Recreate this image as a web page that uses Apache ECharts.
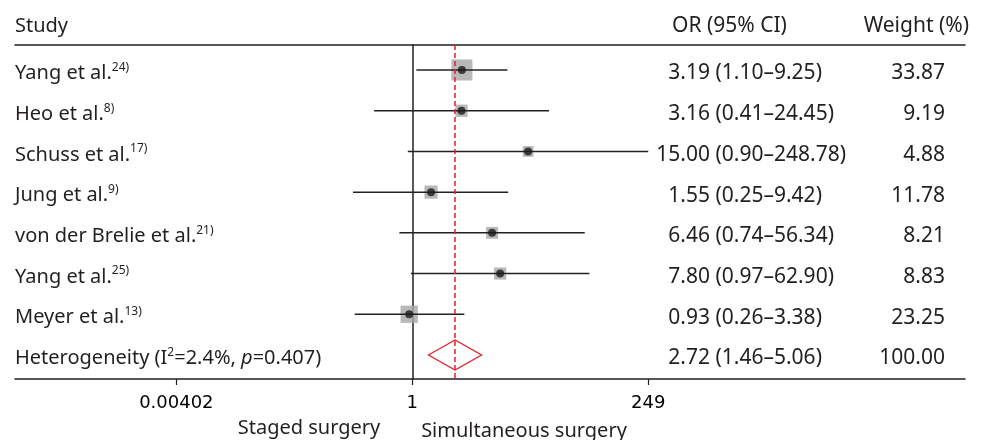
<!DOCTYPE html>
<html>
<head>
<meta charset="utf-8">
<script src="https://cdn.jsdelivr.net/npm/echarts@6/dist/echarts.min.js"></script>
<style>
html,body{margin:0;padding:0;background:#fff}
#chart{width:984px;height:440px}
</style>
</head>
<body>
<div id="chart"></div>
<script>
// ---------------- data ----------------
const studies = ['Yang et al.', 'Heo et al.', 'Schuss et al.', 'Jung et al.', 'von der Brelie et al.', 'Yang et al.', 'Meyer et al.'];
const refs = ['24)', '8)', '17)', '9)', '21)', '25)', '13)'];
const orValues = [3.19, 3.16, 15.00, 1.55, 6.46, 7.80, 0.93];
const ciLower = [1.10, 0.41, 0.90, 0.25, 0.74, 0.97, 0.26];
const ciUpper = [9.25, 24.45, 248.78, 9.42, 56.34, 62.90, 3.38];
const weights = [33.87, 9.19, 4.88, 11.78, 8.21, 8.83, 23.25];
const pooledLabel = 'Heterogeneity';
const pooledI2 = '2.4%';
const pooledP = '0.407';
const pooledValues = [2.72, 1.46, 5.06];   // OR, lower, upper
const pooledWeight = 100.00;
const xTickValues = [0.00402, 1, 249];
const xTickLabels = ['0.00402', '1', '249'];
const headers = ['Study', 'OR (95% CI)', 'Weight (%)'];
const directionLabels = ['Staged surgery', 'Simultaneous surgery'];

// ---------------- helpers ----------------
const lg = v => Math.log10(v);
const fmt = v => v.toFixed(2);
const FONT = '"Noto Sans", sans-serif';
const TEXT = '#231f20';
const LINE = '#231f20';
const RED = '#e8202a';
const FS = 20;      // study names
const FSN = 21;     // numeric columns / headers
const pooledRow = studies.length + 1;

const chart = echarts.init(document.getElementById('chart'), null, { renderer: 'canvas' });

const squareData = orValues.map((v, i) => [lg(v), i + 1, weights[i]]);
const ciData = orValues.map((v, i) => [lg(ciLower[i]), lg(ciUpper[i]), i + 1]);
const textData = studies.map((s, i) => [0, i + 1, i]).concat([[0, pooledRow, -1]]);

const richStyles = {
  sup: { fontSize: 12, fontFamily: FONT, fill: TEXT, lineHeight: 16, verticalAlign: 'top' },
  it: { fontSize: FS, fontFamily: FONT, fontStyle: 'italic', fill: TEXT, lineHeight: 24 }
};

function textItem(x, y, text, align, size, rich) {
  return {
    type: 'text', x: x, y: y,
    style: {
      text: text, fill: TEXT, fontSize: size, fontFamily: FONT,
      align: align, verticalAlign: 'middle', lineHeight: 24,
      rich: rich || undefined
    }
  };
}

const option = {
  animation: false,
  backgroundColor: '#fff',
  grid: { left: 15, right: 19, top: 45, bottom: 61 },
  xAxis: [{
    type: 'value', min: -4.034, max: 5.612,
    axisLine: { show: true, onZero: false, lineStyle: { color: LINE, width: 1.5 } },
    axisTick: { show: true, customValues: xTickValues.map(lg), length: 6, lineStyle: { color: LINE, width: 1.2 } },
    axisLabel: {
      customValues: xTickValues.map(lg),
      formatter: v => {
        const i = xTickValues.findIndex(t => Math.abs(lg(t) - v) < 1e-6);
        return i >= 0 ? xTickLabels[i] : '';
      },
      fontFamily: '"DejaVu Sans", sans-serif', fontSize: 18, color: '#000', margin: 15
    },
    splitLine: { show: false }
  }, {
    type: 'value', position: 'top', min: -4.034, max: 5.612,
    axisLine: { show: true, onZero: false, lineStyle: { color: LINE, width: 1.5 } },
    axisTick: { show: false }, axisLabel: { show: false }, splitLine: { show: false }
  }],
  yAxis: {
    type: 'value', inverse: true, min: 0.386, max: 8.59,
    axisLine: { show: true, onZero: true, onZeroAxisIndex: 0, lineStyle: { color: LINE, width: 1.5 } },
    axisTick: { show: false }, axisLabel: { show: false }, splitLine: { show: false }
  },
  series: [
    {
      // pooled estimate reference line
      type: 'scatter', z: 1, symbolSize: 0, silent: true,
      data: [[lg(pooledValues[0]), pooledRow]],
      markLine: {
        symbol: 'none', silent: true, label: { show: false },
        lineStyle: { color: RED, type: [5, 3], width: 1.5 },
        data: [{ xAxis: lg(pooledValues[0]) }]
      }
    },
    {
      type: 'scatter', z: 2, symbol: 'rect', silent: true,
      symbolSize: v => 9 + 0.355 * v[2],
      itemStyle: { color: '#a6a6a6' },
      data: squareData
    },
    {
      type: 'custom', z: 3, silent: true,
      encode: { x: [0, 1], y: 2 },
      data: ciData,
      renderItem: (params, api) => {
        const a = api.coord([api.value(0), api.value(2)]);
        const b = api.coord([api.value(1), api.value(2)]);
        return { type: 'line', shape: { x1: a[0], y1: a[1], x2: b[0], y2: b[1] }, style: { stroke: '#222', lineWidth: 1.5 } };
      }
    },
    {
      type: 'scatter', z: 4, symbol: 'circle', symbolSize: 8, silent: true,
      itemStyle: { color: '#1a1a1a' },
      data: squareData
    },
    {
      // pooled diamond
      type: 'custom', z: 3, silent: true,
      encode: { x: [0, 1, 2], y: 3 },
      data: [[lg(pooledValues[0]), lg(pooledValues[1]), lg(pooledValues[2]), pooledRow]],
      renderItem: (params, api) => {
        const c = api.coord([api.value(0), api.value(3)]);
        const l = api.coord([api.value(1), api.value(3)]);
        const r = api.coord([api.value(2), api.value(3)]);
        const h = 15;
        return {
          type: 'polygon',
          shape: { points: [[l[0], c[1]], [c[0], c[1] - h], [r[0], c[1]], [c[0], c[1] + h]] },
          style: { fill: 'rgba(0,0,0,0)', stroke: RED, lineWidth: 1.3 }
        };
      }
    },
    {
      // table text
      type: 'custom', z: 5, silent: true,
      encode: { x: 0, y: 1 },
      data: textData,
      clip: false,
      renderItem: (params, api) => {
        const idx = api.value(2);
        const y = api.coord([0, api.value(1)])[1] + 3.5;
        let name, or, lo, hi, w;
        if (idx >= 0) {
          name = studies[idx] + '{sup|' + refs[idx] + '}';
          or = orValues[idx]; lo = ciLower[idx]; hi = ciUpper[idx]; w = weights[idx];
        } else {
          name = pooledLabel + ' (I{sup|2}=' + pooledI2 + ', {it|p}=' + pooledP + ')';
          or = pooledValues[0]; lo = pooledValues[1]; hi = pooledValues[2]; w = pooledWeight;
        }
        return {
          type: 'group',
          children: [
            textItem(15, y, name, 'left', FS, richStyles),
            textItem(710, y, fmt(or), 'right', FSN),
            textItem(715.5, y, '(' + fmt(lo) + '–' + fmt(hi) + ')', 'left', FSN),
            textItem(945, y, fmt(w), 'right', FSN)
          ]
        };
      }
    }
  ],
  graphic: [
    { type: 'text', x: 15, y: 26.5, silent: true, style: { text: headers[0], fill: TEXT, fontSize: FS, fontFamily: FONT, align: 'left', verticalAlign: 'middle' } },
    { type: 'text', x: 672, y: 26.5, silent: true, style: { text: headers[1], fill: TEXT, fontSize: FSN, fontFamily: FONT, align: 'left', verticalAlign: 'middle' } },
    { type: 'text', x: 969, y: 26.5, silent: true, style: { text: headers[2], fill: TEXT, fontSize: FSN, fontFamily: FONT, align: 'right', verticalAlign: 'middle' } },
    { type: 'text', x: 309, y: 428.5, silent: true, style: { text: directionLabels[0], fill: TEXT, fontSize: FS, fontFamily: FONT, align: 'center', verticalAlign: 'middle' } },
    { type: 'text', x: 524, y: 431.5, silent: true, style: { text: directionLabels[1], fill: TEXT, fontSize: FS, fontFamily: FONT, align: 'center', verticalAlign: 'middle' } }
  ]
};

chart.setOption(option);
</script>
</body>
</html>
